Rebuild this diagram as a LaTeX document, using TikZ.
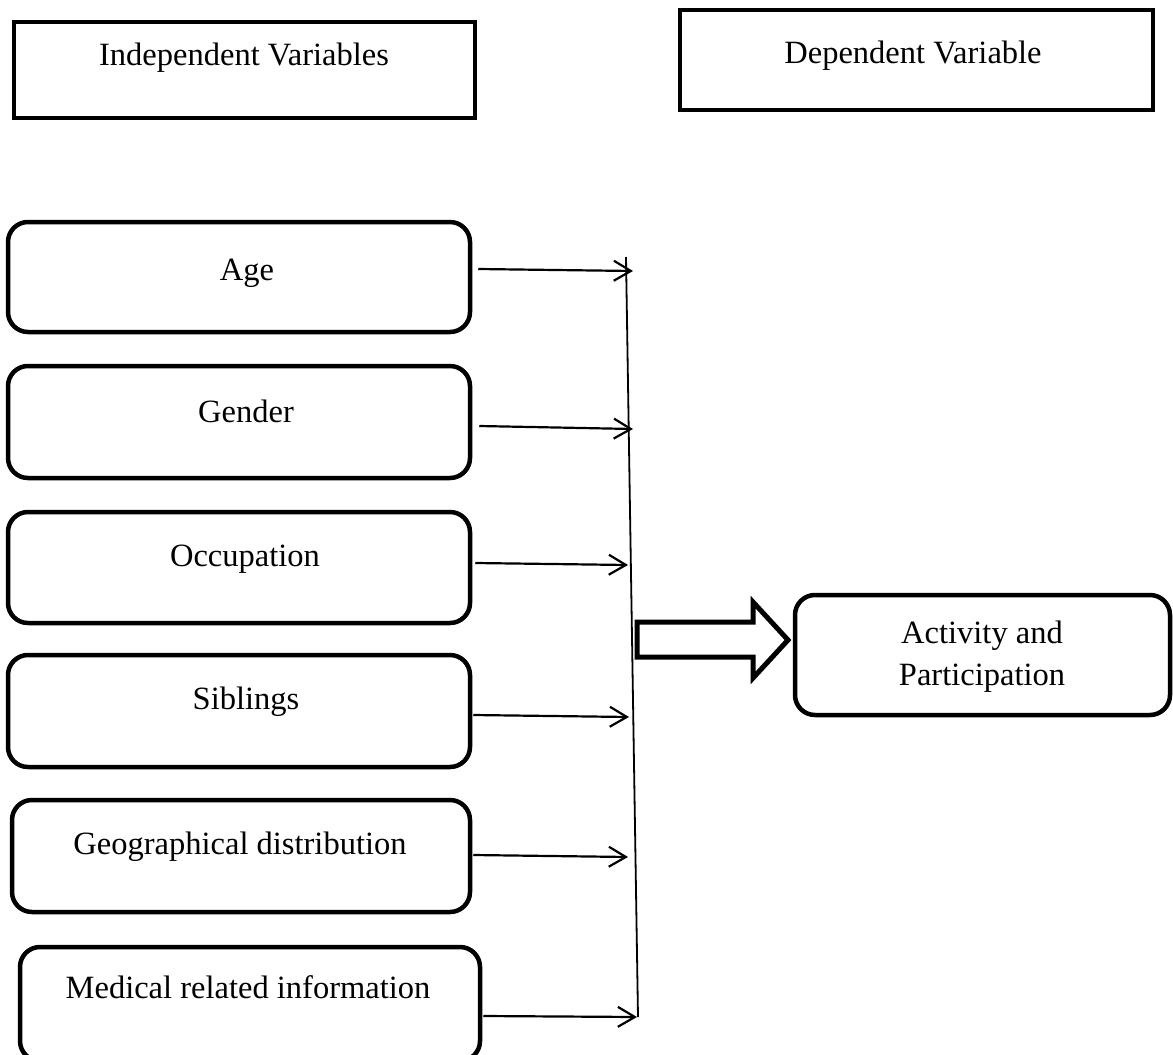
\documentclass[tikz,border=0pt]{standalone}
\usepackage{fontspec}
\setmainfont{Liberation Serif}
\usetikzlibrary{arrows.meta}
\begin{document}
\begin{tikzpicture}[x=1pt,y={(0,-1pt)},
  txt/.style={inner sep=0pt,anchor=base,font=\fontsize{32.5}{42}\selectfont},
  hbox/.style={draw,line width=4.5pt,inner sep=0pt},
  rbox/.style={draw,line width=4.5pt,rounded corners=20pt,inner sep=0pt},
  conn/.style={line width=2.2pt,-{Straight Barb[length=17pt,width=20pt]}},
  bus/.style={line width=1.8pt},
  blockarrow/.style={draw,line width=5pt,miter limit=10}]
\useasboundingbox (0,0) rectangle (1173,1055);
% header boxes
\node[hbox,minimum width=461pt,minimum height=96pt] (indep) at (244.5,70) {};
\node[txt] (indepT) at (244,65) {Independent Variables};
\node[hbox,minimum width=473pt,minimum height=100pt] (dep) at (916.5,60) {};
\node[txt] (depT) at (913,63) {Dependent Variable};
% left boxes
\node[rbox,minimum width=462pt,minimum height=110pt] (age) at (239,277) {};
\node[txt] at (247,280) {Age};
\node[rbox,minimum width=462pt,minimum height=112pt] (gender) at (239,422) {};
\node[txt] at (246,422) {Gender};
\node[rbox,minimum width=462pt,minimum height=111pt] (occ) at (239,567.5) {};
\node[txt] at (245,566) {Occupation};
\node[rbox,minimum width=462pt,minimum height=112pt] (sib) at (239,711) {};
\node[txt] at (246,709) {Siblings};
\node[rbox,minimum width=458pt,minimum height=112pt] (geo) at (241,856) {};
\node[txt] at (240,854) {Geographical distribution};
\node[rbox,minimum width=460pt,minimum height=114pt] (med) at (250,1004) {};
\node[txt] at (248,998) {Medical related information};
% outcome box
\node[rbox,minimum width=375pt,minimum height=120pt] (act) at (982.5,655) {};
\node[txt] at (982,643) {Activity and};
\node[txt] at (982,685) {Participation};
% bus line
\coordinate (busTop) at (626,257);
\coordinate (busBot) at (638,1017);
\draw[bus] (busTop) -- (busBot);
% arrow tips on bus
\coordinate (tAge) at (633,271);
\coordinate (tGen) at (633,429);
\coordinate (tOcc) at (628,565);
\coordinate (tSib) at (629,717);
\coordinate (tGeo) at (628,857);
\coordinate (tMed) at (637,1017);
\draw[conn] ([shift={(6,-8)}]age.east) -- (tAge);
\draw[conn] ([shift={(7,4)}]gender.east) -- (tGen);
\draw[conn] ([shift={(3,-4.5)}]occ.east) -- (tOcc);
\draw[conn] ([shift={(1,4)}]sib.east) -- (tSib);
\draw[conn] ([shift={(1,-1)}]geo.east) -- (tGeo);
\draw[conn] ([shift={(1,12)}]med.east) -- (tMed);
% block arrow
\draw[blockarrow] (637,622) -- (753,622) -- (753,602) -- (788,640) -- (753,678) -- (753,657) -- (637,657) -- cycle;
\end{tikzpicture}
\end{document}
